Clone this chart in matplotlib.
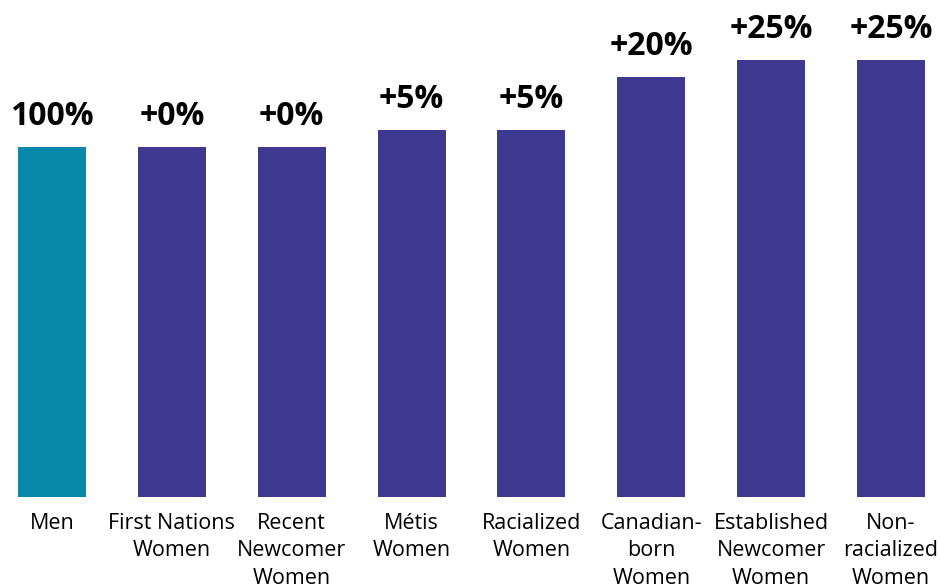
import matplotlib
matplotlib.use("Agg")
import matplotlib.pyplot as plt

categories = ["Men", "First Nations\nWomen", "Recent\nNewcomer\nWomen", "Métis\nWomen",
              "Racialized\nWomen", "Canadian-\nborn\nWomen", "Established\nNewcomer\nWomen",
              "Non-\nracialized\nWomen"]
# relative earnings index, men = 100
values = [100, 100, 100, 105, 105, 120, 125, 125]
labels = ["100%", "+0%", "+0%", "+5%", "+5%", "+20%", "+25%", "+25%"]

TEAL = "#0788a8"
PURPLE = "#3f3891"
colors = [TEAL] + [PURPLE] * (len(values) - 1)

plt.rcParams["font.family"] = ["Open Sans", "DejaVu Sans"]

fig = plt.figure(figsize=(9.4, 5.86), dpi=100)
ax = fig.add_axes([0, 89 / 586, 1, 497 / 586])

x = list(range(len(values)))
bars = ax.bar(x, values, width=0.567, color=colors)

for xi, v, lab in zip(x, values, labels):
    ax.annotate(lab, (xi, v), xytext=(0, 15.8), textcoords="offset points",
                ha="center", va="baseline", fontsize=23, fontweight="bold")

ax.set_xlim(-0.4337, 7.409)
ax.set_ylim(0, 142)
ax.set_xticks(x)
ax.set_xticklabels(categories, fontsize=15.5, linespacing=1.4)
ax.tick_params(axis="x", length=0, pad=11.5)
ax.set_yticks([])
for s in ax.spines.values():
    s.set_visible(False)

fig.savefig("out.png", dpi=100)
